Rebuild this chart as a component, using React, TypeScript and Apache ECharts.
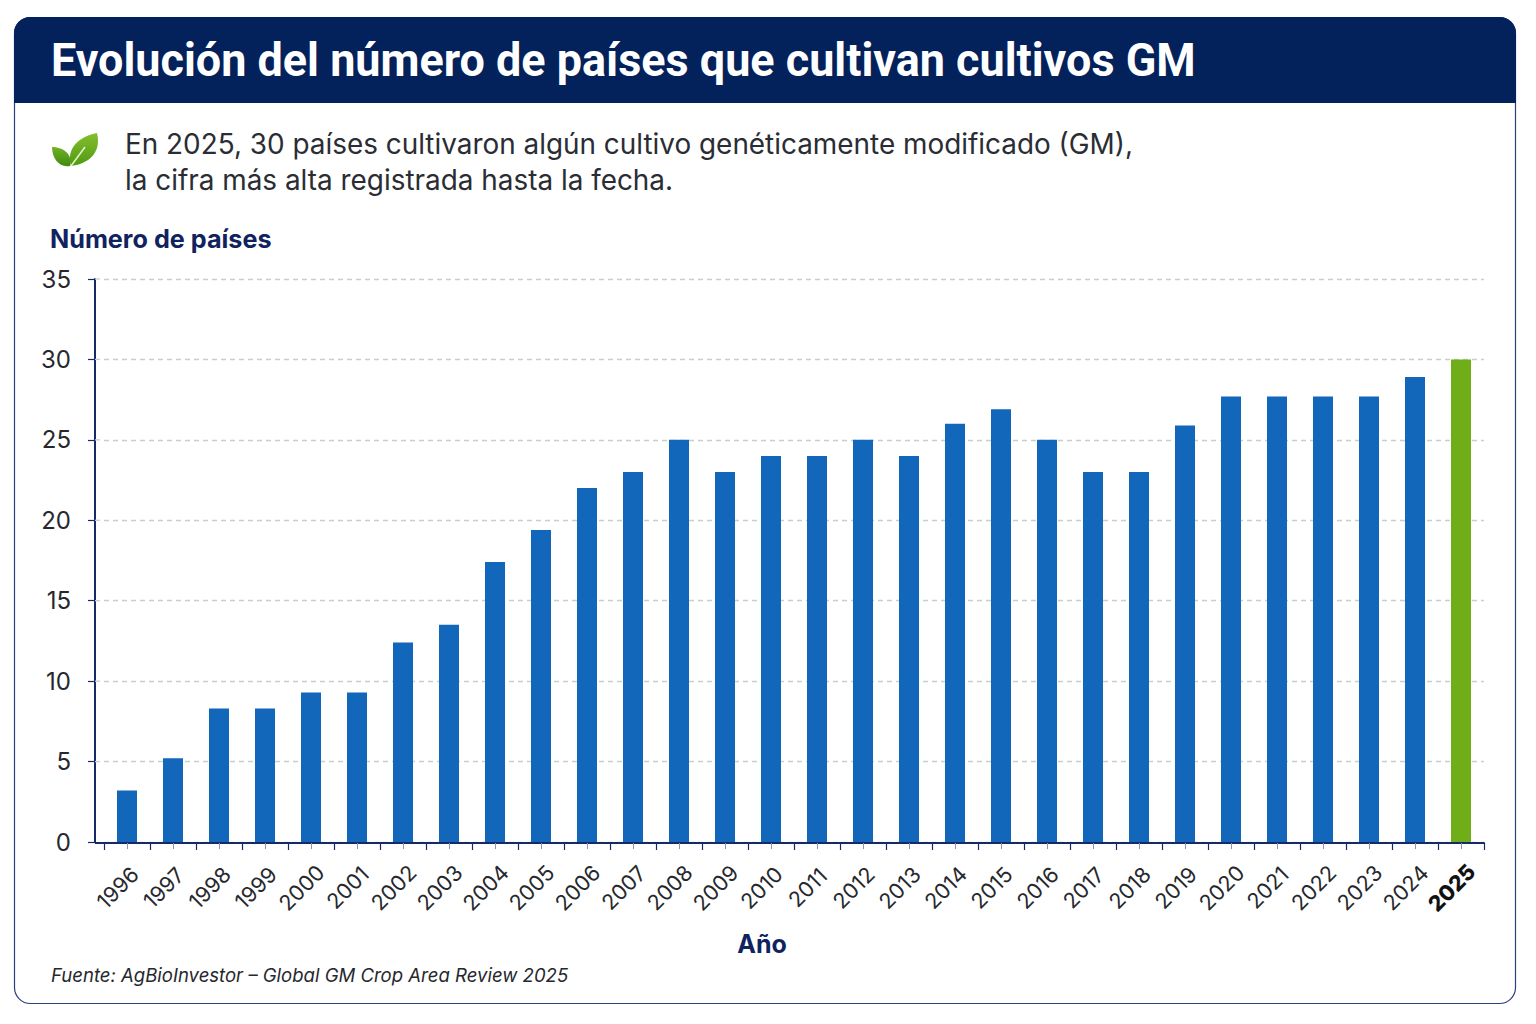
import React, { useEffect, useRef } from "react";
import * as echarts from "echarts";

const years = ["1996","1997","1998","1999","2000","2001","2002","2003","2004","2005","2006","2007","2008","2009","2010","2011","2012","2013","2014","2015","2016","2017","2018","2019","2020","2021","2022","2023","2024","2025"];
const counts = [3.2,5.2,8.3,8.3,9.3,9.3,12.4,13.5,17.4,19.4,22,23,25,23,24,24,25,24,26,26.9,25,23,23,25.9,27.7,27.7,27.7,27.7,28.9,30];
const yTicks = [0,5,10,15,20,25,30,35];
const title = "Evolución del número de países que cultivan cultivos GM";
const introLines = ["En 2025, 30 países cultivaron algún cultivo genéticamente modificado (GM),", "la cifra más alta registrada hasta la fecha."];
const yName = "Número de países";
const xName = "Año";
const source = "Fuente: AgBioInvestor – Global GM Crop Area Review 2025";

const NAVY = "#03215a";
const BLUE = "#1367bb";
const GREEN = "#6fad19";
const HIGHLIGHT = "2025";
const GRID_TOP = 279;
const GRID_H = 563;
const GRID_COLOR = "#c9cdd2";
const DASH = [5, 4];

echarts.graphic.registerShape("leafBig", echarts.graphic.extendPath("M0 0C-4 -13 2 -28 26 -33C30 -17 22 -3 0 0Z", {}) as any);
echarts.graphic.registerShape("leafSmall", echarts.graphic.extendPath("M0 0C-11 2 -18 -8 -18 -19C-8 -19 3 -13 0 0Z", {}) as any);
echarts.graphic.registerShape("headerBar", echarts.graphic.extendPath("M0 86V16A16 16 0 0 1 16 0H1486A16 16 0 0 1 1502 16V86Z", {}) as any);

const leafFill = (top: string, bottom: string) => ({
  type: "linear", x: 0, y: 0, x2: 0, y2: 1,
  colorStops: [{ offset: 0, color: top }, { offset: 1, color: bottom }],
});

export default function App() {
  const ref = useRef<HTMLDivElement>(null);
  useEffect(() => {
    const chart = echarts.init(ref.current!, undefined, { renderer: "svg" });
    const guide = yTicks.slice(1).map((v) => {
      const y = GRID_TOP + GRID_H - (v * GRID_H) / 35;
      return {
        type: "line", z: 1,
        shape: { x1: 95, y1: y, x2: 104, y2: y },
        style: { stroke: GRID_COLOR, lineWidth: 1.3, lineDash: DASH },
      };
    });
    chart.setOption({
      animation: false,
      backgroundColor: "#ffffff",
      grid: { left: 104, top: GRID_TOP, width: 1380, height: GRID_H, containLabel: false },
      graphic: [
        { type: "rect", z: 0, shape: { x: 14.5, y: 17.5, width: 1501, height: 986, r: 16 }, style: { fill: "#ffffff", stroke: "#2d3f7c", lineWidth: 1.2 } },
        { type: "headerBar", z: 1, x: 14, y: 17, style: { fill: NAVY } },
        { type: "text", z: 2, x: 51, y: 60, scaleX: 0.956, style: { text: title, fill: "#ffffff", font: "700 47px Roboto", textVerticalAlign: "middle" } },
        { type: "leafBig", z: 2, x: 71, y: 166, style: { fill: leafFill("#86bf2e", "#4f9a12") } },
        { type: "leafSmall", z: 2, x: 70, y: 166, style: { fill: leafFill("#74b126", "#3f8a0e") } },
        { type: "line", z: 3, shape: { x1: 71, y1: 166, x2: 85, y2: 147 }, style: { stroke: "#e8f3d6", lineWidth: 1.5 } },
        { type: "text", z: 2, x: 125, y: 143.5, style: { text: introLines[0], fill: "#2a2d33", font: "400 27.9px Inter", textVerticalAlign: "middle" } },
        { type: "text", z: 2, x: 125, y: 180, style: { text: introLines[1], fill: "#2a2d33", font: "400 27.9px Inter", textVerticalAlign: "middle" } },
        { type: "text", z: 2, x: 50, y: 239, style: { text: yName, fill: "#10235f", font: "700 25.2px Inter", textVerticalAlign: "middle" } },
        { type: "text", z: 2, x: 51, y: 975, style: { text: source, fill: "#26282d", font: "italic 400 18.55px Inter", textVerticalAlign: "middle" } },
        { type: "line", z: 5, shape: { x1: 95, y1: 843, x2: 104, y2: 843 }, style: { stroke: "#152a66", lineWidth: 2 } },
        ...guide,
      ],
      xAxis: [
        {
          type: "category",
          data: years,
          offset: 1,
          name: xName,
          nameLocation: "middle",
          nameGap: 88,
          nameTextStyle: { color: "#10235f", fontFamily: "Inter", fontWeight: 700, fontSize: 25, padding: [0, 64, 0, 0] },
          axisLine: { onZero: false, lineStyle: { color: "#152a66", width: 2 } },
          axisTick: { show: true, alignWithLabel: false, length: 7, lineStyle: { color: "#152a66", width: 1.2 } },
          axisLabel: {
            interval: 0,
            rotate: 45,
            align: "center",
            verticalAlign: "middle",
            padding: [0, 27, 0, 0],
            margin: 35,
            color: "#26282d",
            fontFamily: "Inter",
            fontSize: 21.5,
            formatter: (v: string) => (v === HIGHLIGHT ? `{hl|${v}}` : v),
            rich: { hl: { fontFamily: "Inter", fontWeight: 800, fontSize: 21.5, color: "#111111" } },
          },
        },
        {
          type: "category",
          data: years,
          position: "bottom",
          offset: 1,
          axisLine: { show: false, onZero: false },
          axisTick: { show: true, alignWithLabel: true, interval: 0, length: 6, lineStyle: { color: "#8c96b4", width: 1 } },
          axisLabel: { show: false },
          splitLine: { show: false },
        },
      ],
      yAxis: {
        type: "value",
        min: 0,
        max: 35,
        interval: 5,
        offset: 9,
        axisLine: { show: true, lineStyle: { color: "#152a66", width: 2 } },
        axisTick: { show: true, length: 7, lineStyle: { color: "#152a66", width: 1.2 } },
        axisLabel: { margin: 24, color: "#26282d", fontFamily: "Inter", fontSize: 24 },
        splitLine: { show: true, lineStyle: { color: GRID_COLOR, width: 1.3, type: DASH } },
      },
      series: [
        {
          type: "bar",
          barWidth: 20,
          data: counts.map((v, i) => ({ value: v, itemStyle: { color: years[i] === HIGHLIGHT ? GREEN : BLUE } })),
        },
      ],
    });
    return () => chart.dispose();
  }, []);
  return <div ref={ref} style={{ position: "absolute", left: 0, top: 0, width: 1536, height: 1024 }} />;
}
